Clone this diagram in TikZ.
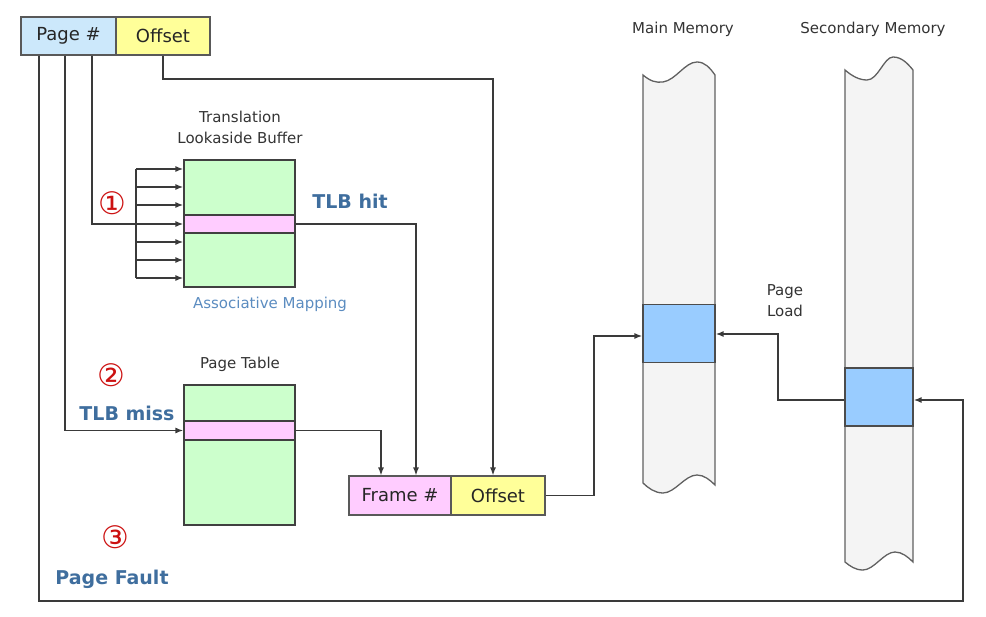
\documentclass[tikz,border=0pt]{standalone}
\usepackage{fontspec}
\setmainfont{DejaVu Sans}
\usetikzlibrary{arrows.meta,calc}
\definecolor{pgblue}{HTML}{CCE8FB}
\definecolor{offyel}{HTML}{FFFF99}
\definecolor{tlbgreen}{HTML}{CCFFCC}
\definecolor{rowpink}{HTML}{FFCCFF}
\definecolor{blkblue}{HTML}{99CCFF}
\definecolor{colgray}{HTML}{F4F4F4}
\definecolor{lblblue}{HTML}{3F6E9E}
\definecolor{assocblue}{HTML}{5B8CC0}
\definecolor{numred}{HTML}{CC1111}
\definecolor{linegray}{HTML}{3A3A3A}
\tikzset{
  cell/.style={draw=gray!70!black, line width=1.1pt, inner sep=0pt, font=\fontsize{18}{20}\selectfont, text=black!85},
  table/.style={draw=black!75, line width=1.2pt, fill=tlbgreen, inner sep=0pt, minimum width=111pt},
  row/.style={draw=black!75, line width=1.2pt, fill=rowpink, inner sep=0pt, minimum width=111pt},
  blk/.style={draw=black!70, line width=1.2pt, fill=blkblue, inner sep=0pt},
  col/.style={draw=gray!75!black, line width=1.3pt, fill=colgray},
  conn/.style={draw=linegray, line width=1.4pt},
  arr/.style={conn, -{Latex[length=8pt,width=6pt]}},
  lbl/.style={font=\fontsize{15}{18}\selectfont, text=black!80, align=center, inner sep=0pt},
  keylbl/.style={font=\bfseries\fontsize{19}{22}\selectfont, text=lblblue, inner sep=0pt},
  num/.style={font=\fontsize{31}{33}\selectfont, text=numred, inner sep=0pt}
}
\begin{document}
\begin{tikzpicture}[x=1pt,y=-1pt]
\useasboundingbox (0,0) rectangle (986,617);

% memory columns
\path[col] (643,75) .. controls (650,81) and (656,83) .. (663,82) .. controls (676,80) and (685,62) .. (697,62) .. controls (705,62) and (710,68) .. (715,75)
  -- (715,485) .. controls (710,480) and (704,475) .. (697,475) .. controls (685,475) and (675,493) .. (663,493) .. controls (655,493) and (648,488) .. (643,483) -- cycle;
\path[col] (845,70) .. controls (852,76) and (859,80) .. (867,80) .. controls (878,80) and (884,57) .. (893,57) .. controls (902,57) and (908,64) .. (913,70)
  -- (913,562) .. controls (908,557) and (902,552) .. (895,552) .. controls (884,552) and (874,570) .. (863,570) .. controls (855,570) and (850,566) .. (845,562) -- cycle;
\node[blk, minimum width=72pt, minimum height=58pt] (mmblk) at (679,333.5) {};
\node[blk, minimum width=68pt, minimum height=58pt] (smblk) at (879,397) {};

\node[lbl] (mmlbl) at (683,29) {Main Memory};
\node[lbl] (smlbl) at (873,29) {Secondary Memory};
\node[lbl, align=center] (pload) at (785,301) {Page\\[3pt]Load};

% logical address
\node[cell, fill=pgblue, minimum width=95pt, minimum height=38pt] (pg) at (68.5,36) {Page \#};
\node[cell, fill=offyel, minimum width=94pt, minimum height=38pt] (off) at (163,36) {Offset};

% TLB
\node[table, minimum height=127pt] (tlb) at (239.5,223.5) {};
\node[row, minimum height=18pt] (tlbrow) at (239.5,224) {};
\node[lbl] (tlblbl) at (240,127) {Translation\\[3pt]Lookaside Buffer};
\node[lbl, text=assocblue] (assoc) at (270,304) {Associative Mapping};
\node[keylbl] (hit) at (350,201) {TLB hit};
\node[num] (n1) at (112,203) {①};

% Page table
\node[table, minimum height=140pt] (pt) at (239.5,455) {};
\node[row, minimum height=19pt] (ptrow) at (239.5,430.5) {};
\node[lbl] (ptlbl) at (240,364) {Page Table};
\node[num] (n2) at (111,375) {②};
\node[keylbl] (miss) at (127,413) {TLB miss};
\node[num] (n3) at (115,537) {③};
\node[keylbl] (fault) at (112,579) {Page Fault};

% physical address
\node[cell, fill=rowpink, minimum width=102pt, minimum height=39pt] (fr) at (400,495.5) {Frame \#};
\node[cell, fill=offyel, minimum width=94pt, minimum height=39pt] (foff) at (498,495.5) {Offset};

% coordinates
\coordinate (bus) at (136,0);

% associative bus
\draw[conn] (bus |- 0,169) -- (bus |- 0,278);
\foreach \yy in {169,187,205,242,260,278}{
  \draw[arr] (bus |- 0,\yy) -- (tlb.west |- 0,\yy);
}
\draw[arr] (pg.south -| 92,0) |- (tlbrow.west);

% TLB hit
\draw[arr] (tlbrow.east) -| (fr.north -| 416,0);
% page table
\draw[arr] (pg.south -| 65,0) |- (ptrow.west);
\draw[arr] (ptrow.east) -| (fr.north -| 381,0);
% offset
\draw[arr] (off.south) |- (off.south |- 0,79) -| (foff.north -| 493,0);
% physical to main memory
\draw[arr] (foff.east) -| (594,336) -- (mmblk.west |- 0,336);
% page load
\draw[arr] (smblk.west |- 0,400) -| (778,334) -- (mmblk.east |- 0,334);
% page fault
\draw[arr] (pg.south -| 39,0) |- (963,601) |- (smblk.east |- 0,400);
\end{tikzpicture}
\end{document}
